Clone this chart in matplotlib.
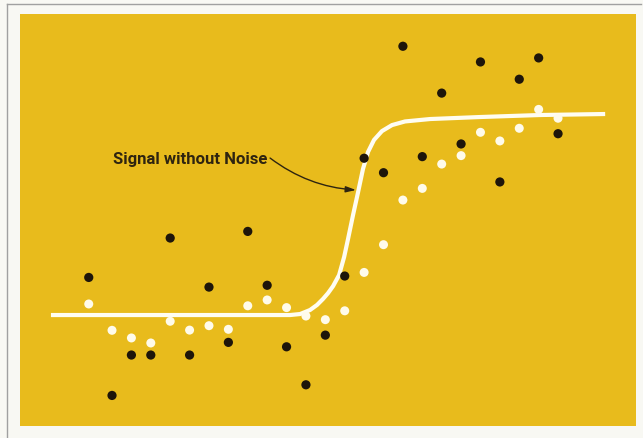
import matplotlib
matplotlib.use("Agg")
import matplotlib.pyplot as plt
from matplotlib.lines import Line2D

# sample times (arbitrary units) for the 25 measurements
t = [-0.2] + list(range(1, 25))

# single noisy measurement of each sample (black dots)
noisy = [0.187, -0.400, -0.199, -0.199, 0.383, -0.199, 0.139, -0.136, 0.416, 0.148,
         -0.158, -0.347, -0.100, 0.194, 0.780, 0.708, 1.337, 0.788, 1.104, 0.851,
         1.259, 0.662, 1.173, 1.279, 0.902]

# averaged measurement (white dots)
averaged = [0.055, -0.076, -0.114, -0.139, -0.031, -0.075, -0.053, -0.071, 0.046, 0.075,
            0.037, -0.005, -0.023, 0.021, 0.212, 0.350, 0.572, 0.630, 0.751, 0.793,
            0.909, 0.866, 0.929, 1.023, 0.979]

# true signal (white curve)
sig_t = [-2.15, 10.18, 10.70, 11.21, 11.57, 11.88, 12.14, 12.40, 12.71, 12.97, 13.17,
         13.43, 13.69, 13.94, 14.20, 14.51, 14.92, 15.44, 16.11, 17.40, 19.98, 23.07, 26.43]
sig_v = [0.0, 0.0, 0.005, 0.025, 0.050, 0.080, 0.109, 0.144, 0.199, 0.289, 0.378,
         0.498, 0.612, 0.726, 0.811, 0.871, 0.915, 0.945, 0.963, 0.975, 0.985, 0.995, 1.0]

label = "Signal without Noise"

yellow = "#e8bb1c"
W, H = 643, 439
fig = plt.figure(figsize=(W / 100, H / 100), dpi=100, facecolor="#f8f8f3")

# scanned page frame (left and top edges)
fig.add_artist(Line2D([7 / W, 7 / W], [0, 1 - 5 / H], color="#a0a0a0", lw=1.0))
fig.add_artist(Line2D([7 / W, 641 / W], [1 - 5 / H, 1 - 5 / H], color="#a0a0a0", lw=1.0))

ax = fig.add_axes([20 / W, 12 / H, 616 / W, 412 / H])
ax.set_facecolor(yellow)
ax.set_xlim(-3.745, 28.02)
ax.set_ylim(-0.552, 1.4975)
ax.set_xticks([])
ax.set_yticks([])
for s in ax.spines.values():
    s.set_visible(False)

ax.plot(sig_t, sig_v, color="#fffdf2", lw=3.0, solid_capstyle="butt",
        solid_joinstyle="round", zorder=2)
ax.scatter(t, averaged, s=42, color="#fffbea", edgecolors="none", zorder=3)
ax.scatter(t, noisy, s=44, color="#1e150a", edgecolors="none", zorder=4)

ax.text(1.05, 0.781, label, ha="left", va="center", fontsize=12, fontweight="bold",
        color="#2e2410", family=["Roboto", "DejaVu Sans"])
ax.annotate("", xy=(13.58, 0.622), xytext=(9.15, 0.781),
            arrowprops=dict(arrowstyle="-|>,head_length=0.6,head_width=0.18",
                            connectionstyle="arc3,rad=0.15", color="#2e2410",
                            lw=1.0, shrinkA=0, shrinkB=0))

fig.savefig("out.png", dpi=100, facecolor=fig.get_facecolor())
